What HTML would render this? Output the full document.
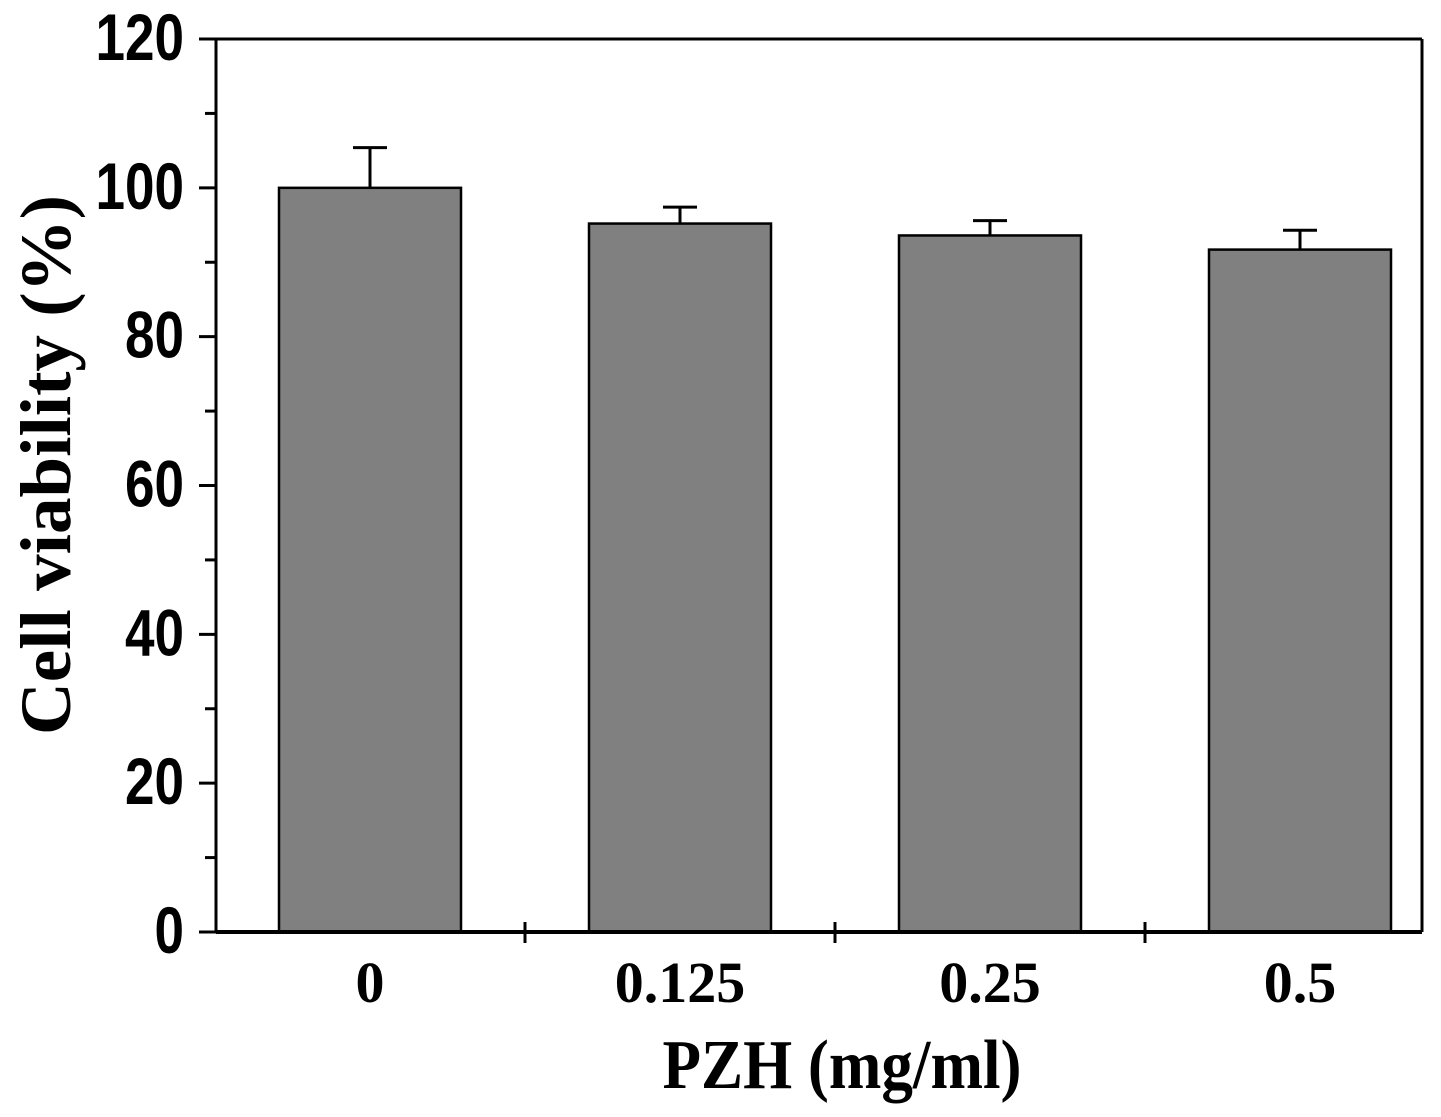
<!DOCTYPE html>
<html><head><meta charset="utf-8"><style>
html,body{margin:0;padding:0;background:#fff;}
svg{display:block;}
</style></head><body>
<svg id="chart" width="1441" height="1117" xmlns="http://www.w3.org/2000/svg"></svg>
<script>
const categories = ["0", "0.125", "0.25", "0.5"];
const values = [100, 95.2, 93.6, 91.7];
const errors = [5.4, 2.2, 2.0, 2.6];
const yTicks = [0, 20, 40, 60, 80, 100, 120];
const yMinorTicks = [10, 30, 50, 70, 90, 110];

const svg = document.getElementById('chart');
const NS = 'http://www.w3.org/2000/svg';
const L = 216, R = 1422, T = 39, B = 932;
const yMax = 120;
function y(v){ return B - v / yMax * (B - T); }
const step = 310, x0 = 370;
function x(i){ return x0 + i * step; }
const barW = 182;

function mk(tag, attrs, parent){
  const e = document.createElementNS(NS, tag);
  for (const k in attrs) e.setAttribute(k, attrs[k]);
  (parent || svg).appendChild(e);
  return e;
}

categories.forEach((c, i) => {
  const bx = x(i) - barW / 2;
  const r = mk('rect', {x: bx, y: y(values[i]), width: barW, height: B - y(values[i]), fill: '#808080', stroke: '#000', 'stroke-width': 2.5});
  
  
  const eb = mk('path', {d: `M${x(i)} ${y(values[i])}V${y(values[i] + errors[i])}M${x(i) - 17} ${y(values[i] + errors[i])}H${x(i) + 17}`, stroke: '#000', 'stroke-width': 3, fill: 'none'});
  
  
  const t = mk('text', {x: x(i), y: 1002, 'text-anchor': 'middle', 'font-family': 'Liberation Serif, serif', 'font-weight': 'bold', 'font-size': 58});
  t.textContent = c;
  
  
});
const base = mk('line', {x1: L, x2: R, y1: B, y2: B, stroke: '#000', 'stroke-width': 4});



const frame = mk('path', {d: `M${L} ${T}V${B}M${R} ${T}V${B}M199 ${T}H${R}M199 ${B}H${R}`, stroke: '#000', 'stroke-width': 3, fill: 'none'});



yTicks.forEach(v => {
  mk('line', {x1: 199, x2: L, y1: y(v), y2: y(v), stroke: '#000', 'stroke-width': 3});
  const s = String(v);
  const t = mk('text', {x: 184, y: y(v) + 21, 'text-anchor': 'end', 'font-family': 'Liberation Sans, sans-serif', 'font-weight': 'bold', 'font-size': 66, textLength: 29.5 * s.length, lengthAdjust: 'spacingAndGlyphs'});
  t.textContent = s;
  
  
});
yMinorTicks.forEach(v => {
  mk('line', {x1: 205, x2: L, y1: y(v), y2: y(v), stroke: '#000', 'stroke-width': 3});
});
for (let i = 0; i < categories.length - 1; i++) {
  const xx = (x(i) + x(i + 1)) / 2;
  mk('line', {x1: xx, x2: xx, y1: B - 10, y2: B + 11, stroke: '#000', 'stroke-width': 3});
}

const yt = mk('text', {x: 0, y: 0, transform: 'translate(70,465) rotate(-90)', 'text-anchor': 'middle', 'font-family': 'Liberation Serif, serif', 'font-weight': 'bold', 'font-size': 72, textLength: 540, lengthAdjust: 'spacingAndGlyphs'});
yt.textContent = 'Cell viability (%)';



const xt = mk('text', {x: 842, y: 1088, 'text-anchor': 'middle', 'font-family': 'Liberation Serif, serif', 'font-weight': 'bold', 'font-size': 70, textLength: 359, lengthAdjust: 'spacingAndGlyphs'});
xt.textContent = 'PZH (mg/ml)';


</script>
</body></html>
